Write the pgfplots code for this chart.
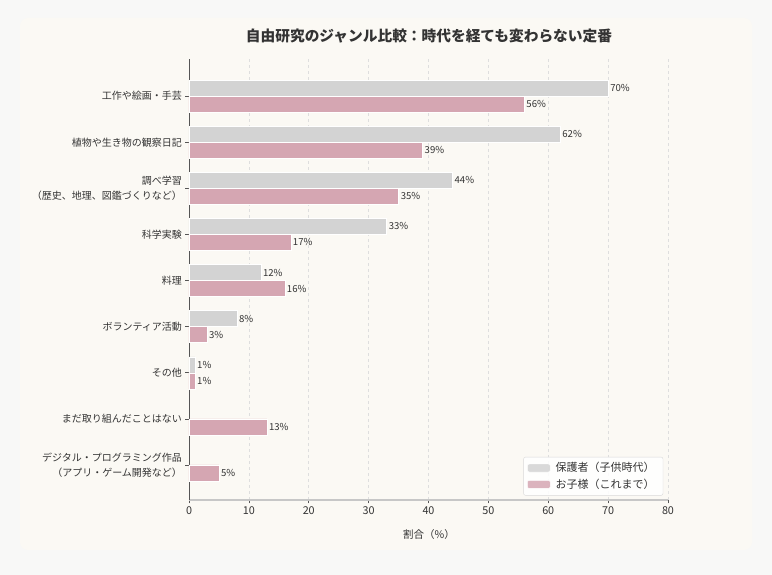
\documentclass[border=0pt]{standalone}
\usepackage{fontspec}
\setmainfont{Noto Sans CJK JP}
\usepackage{pgfplots}
\pgfplotsset{compat=1.18}
\definecolor{txt}{HTML}{333333}
\definecolor{barA}{HTML}{D3D3D3}
\definecolor{barB}{HTML}{D5A6B2}
\definecolor{bgout}{HTML}{F8F8F7}
\definecolor{bgin}{HTML}{FBF9F4}
\definecolor{gridc}{HTML}{DEDEDE}
\definecolor{spine}{HTML}{555555}
\begin{document}
\begin{tikzpicture}[x=1pt,y=1pt]
\fill[bgout] (0,0) rectangle (772,575);
\fill[bgin, rounded corners=8pt] (20,25) rectangle (752,557);
\node[text=txt, font=\fontsize{14.7}{16}\selectfont\bfseries] at (429,539) {自由研究のジャンル比較：時代を経ても変わらない定番};
\node[text=txt, font=\fontsize{10.5}{12}\selectfont] at (429,40) {割合（\%）};
\begin{axis}[
  at={(189pt,75pt)}, anchor=south west,
  scale only axis, width=479pt, height=441pt,
  xmin=0, xmax=80, ymin=-0.76, ymax=8.806,
  xbar, bar width=16pt,
  axis x line*=bottom, axis y line*=left,
  axis line style={-},
  x axis line style={draw=black!22, line width=1.6pt},
  y axis line style={draw=spine, line width=0.8pt},
  xtick={0,10,...,80},
  ytick={0,...,8},
  yticklabels={{デジタル・プログラミング作品\\（アプリ・ゲーム開発など）},
               {まだ取り組んだことはない},
               {その他},
               {ボランティア活動},
               {料理},
               {科学実験},
               {調べ学習\\（歴史、地理、図鑑づくりなど）},
               {植物や生き物の観察日記},
               {工作や絵画・手芸}},
  yticklabel style={align=right, font=\fontsize{10}{15}\selectfont, text=txt},
  xticklabel style={font=\fontsize{10.8}{12}\selectfont, text=txt},
  /pgf/number format/assume math mode=true,
  tick align=outside, major tick length=3.5pt,
  tick style={draw=spine, line width=0.6pt},
  xmajorgrids, ymajorgrids=false,
  major grid style={draw=gridc, dashed, line width=0.5pt},
  nodes near coords={\pgfmathprintnumber{\pgfplotspointmeta}\%},
  nodes near coords style={font=\fontsize{9.6}{10}\selectfont, text=txt, anchor=west, inner sep=2pt},
  legend style={at={(0.99,0.01)}, anchor=south east, draw=black!15, fill=white,
    fill opacity=0.85, text opacity=1, rounded corners=2pt,
    font=\fontsize{11}{12}\selectfont, text=txt, row sep=1.5pt, inner sep=3.5pt,
    nodes={inner xsep=5pt}},
  legend cell align=left,
  legend image code/.code={\fill[#1] (0pt,-4pt) rectangle (23pt,4pt);},
]
\addplot[fill=barA, draw=white, line width=0.4pt, bar shift=8pt]
  coordinates {(70,8) (62,7) (44,6) (33,5) (12,4) (8,3) (1,2)};
\addplot[fill=barB, draw=white, line width=0.4pt, bar shift=-8pt]
  coordinates {(56,8) (39,7) (35,6) (17,5) (16,4) (3,3) (1,2) (13,1) (5,0)};
\legend{保護者（子供時代）, お子様（これまで）}
\end{axis}
\end{tikzpicture}
\end{document}
